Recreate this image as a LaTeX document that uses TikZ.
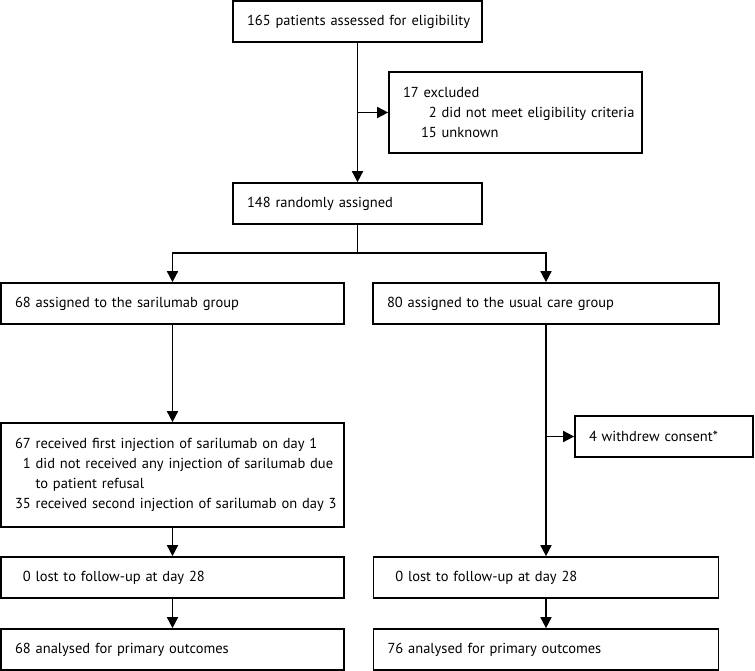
\documentclass[tikz,border=0pt]{standalone}
\usepackage{fontspec}
\setmainfont{PT Sans}
\usetikzlibrary{arrows.meta}
\newcommand{\oneline}[1]{\mbox{#1}}
\begin{document}
\begin{tikzpicture}[x=1pt,y=-1pt,
  box/.style={draw,line width=1.7pt,rectangle,inner xsep=14pt,inner ysep=0pt,
    align=left,anchor=center,font=\fontsize{14.5}{20}\selectfont},
  conn/.style={line width=1.7pt},
  arr/.style={line width=1.7pt,-{Triangle[length=11pt,width=11pt]}}]
\useasboundingbox (0,0) rectangle (755,671);
\def\bx#1#2#3#4#5#6{\node[box,minimum width=#4pt,minimum height=#5pt,text width=#4pt-28pt] (#1) at (#2,#3) {#6};}
\bx{b1}{357.5}{21.5}{249}{41}{\oneline{165 patients assessed for eligibility}}
\bx{excl}{515.5}{112.5}{253}{81}{\oneline{17 excluded}\\\oneline{\hspace*{18pt}\phantom{1}2 did not meet eligibility criteria}\\\oneline{\hspace*{18pt}15 unknown}}
\bx{b2}{357.5}{203.5}{249}{41}{\oneline{148 randomly assigned}}
\bx{sar}{172.5}{303.5}{343}{41}{\oneline{68 assigned to the sarilumab group}}
\bx{usual}{546}{303.5}{346}{41}{\oneline{80 assigned to the usual care group}}
\bx{inj}{172.5}{475}{343}{104}{\oneline{67 received first injection of sarilumab on day 1}\\\oneline{\phantom{6}1 did not received any injection of sarilumab due}\\\oneline{\phantom{61 }to patient refusal}\\\oneline{35 received second injection of sarilumab on day 3}}
\bx{wd}{664}{436.5}{178}{41}{\oneline{4 withdrew consent*}}
\bx{lostL}{172.5}{577.5}{343}{41}{\oneline{\phantom{6}0 lost to follow-up at day 28}}
\bx{lostR}{546}{577.5}{345}{41}{\oneline{\phantom{6}0 lost to follow-up at day 28}}
\bx{anL}{172.5}{649.5}{343}{41}{\oneline{68 analysed for primary outcomes}}
\bx{anR}{546}{649.5}{345}{41}{\oneline{76 analysed for primary outcomes}}
\coordinate (ex) at (b1.south |- excl.west);
\coordinate (split) at (357.5,253);
\coordinate (wdj) at (usual.south |- wd.west);
\draw[arr] (b1.south) -- (b2.north);
\draw[arr] (ex) -- (excl.west);
\draw[conn] (b2.south) -- (split);
\draw[arr] (split) -| (sar.north);
\draw[arr] (split) -| (usual.north);
\draw[arr] (sar.south) -- (inj.north);
\draw[arr] (usual.south) -- (lostR.north);
\draw[arr] (wdj) -- (wd.west);
\draw[arr] (inj.south) -- (lostL.north);
\draw[arr] (lostL.south) -- (anL.north);
\draw[arr] (lostR.south) -- (anR.north);
\end{tikzpicture}
\end{document}
